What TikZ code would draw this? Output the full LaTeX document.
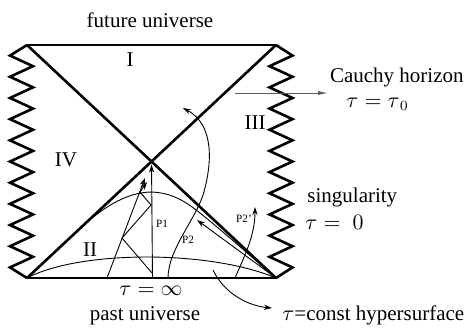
\documentclass[tikz,border=0pt]{standalone}
\usepackage{fontspec}
\setmainfont{Liberation Serif}
\usetikzlibrary{arrows.meta,calc,positioning}
\tikzset{
    wall/.style={line width=1.3pt,draw=black,line join=miter},
    thinline/.style={line width=0.45pt,draw=black},
    ray/.style={thinline,-{Stealth[length=4pt,width=2.6pt]}},
    pathlabel/.style={font=\fontsize{5.6}{6}\selectfont},
    every node/.style={font=\fontsize{10.5}{12}\selectfont,inner sep=0pt}
}

\begin{document}
\begin{tikzpicture}[x=0.5pt,y=-0.5pt]
  \useasboundingbox (0,0) rectangle (465,329);
  \coordinate (TL) at (27,45);
  \coordinate (TR) at (276,45);
  \coordinate (BL) at (27,278);
  \coordinate (BR) at (276,278);
  \coordinate (O) at (intersection of TL--BR and TR--BL);

  % boundary of the diagram
  \draw[wall] (TL)--(TR);
  \draw[wall] (BL)--(BR);
  \draw[wall] (TL)--(BR);
  \draw[wall] (TR)--(BL);

  % singularities
  \draw[wall] (TL) \foreach \i in {1,...,21}{
    -- ({21.5+11.5*cos(180*\i)},{45+\i*233/22})} -- (BL);
  \draw[wall] (TR) \foreach \i in {1,...,21}{
    -- ({281-11.5*cos(180*\i)},{45+\i*233/22})} -- (BR);

  % tau = const hypersurfaces
  \coordinate (U0) at ($(BL)!0.213!(TR)$);
  \draw[thinline] (U0) .. controls (100,210) and (125,192) .. (152,192)
    .. controls (172,193) and (185,201) .. (200,213)
    .. controls (225,233) and (255,260) .. (BR);
  \draw[thinline] (BL) .. controls (80,250) and (210,250) .. (BR);

  % world lines
  \coordinate (P1a) at ($(BL)!0.504!(BR)$);
  \draw[ray,shorten >=1.5pt] (P1a) -- (O);
  \coordinate (S0) at (107,278);
  \coordinate (S1) at (145,178);
  \draw[ray] (S0) -- (S1);
  \coordinate (R0) at (152,273);
  \coordinate (R1) at (122,238);
  \coordinate (R2) at (151,205);
  \coordinate (R3) at (140,192);
  \coordinate (R4) at (147,182);
  \draw[ray] (R0) -- (R1) -- (R2) -- (R3) -- (R4);

  \coordinate (Q0) at (168,278);
  \coordinate (Q1) at (203,195);
  \coordinate (Q2) at (183,108);
  \draw[ray] (Q0) .. controls (168,250) and (195,220) .. (Q1)
    .. controls (212,165) and (215,125) .. (Q2);

  \coordinate (A0) at (272,275);
  \coordinate (A1) at (197,220);
  \draw[ray] (A0) -- (A1);

  \coordinate (W0) at (235,278);
  \coordinate (W1) at (255,207);
  \draw[ray] (W0) .. controls (245,255) and (255,235) .. (W1);

  % labels
  \node (future) at (150,20) {future universe};
  \node (past) at (145,316) {past universe};
  \node (rI) at (130,60) {I};
  \node (rII) at (90,250) {II};
  \node (rIII) at (255,123) {III};
  \node (rIV) at (66,160) {IV};
  \node (tinf) at (151,291) {$\tau = \infty$};
  \node[pathlabel] (p1) at (162,224) {P1};
  \node[pathlabel] (p2) at (188,240) {P2};
  \node[pathlabel] (p2b) at (244,219) {P2'};

  \node[anchor=east] (cauchy) at (464,77) {Cauchy horizon};
  \node[anchor=west] (tzero) at (346,104) {$\tau = \tau_{\,0}$};
  \coordinate (C0) at (235,93);
  \coordinate (C1) at (328,93);
  \draw[thinline,draw=black!65,-{Latex[length=5pt,width=2pt]}] (C0) -- (C1);

  \node[anchor=west] (sing) at (307,197) {singularity};
  \node[anchor=west] (tau0) at (305,222) {$\tau = \;0$};

  \node[anchor=west] (hyper) at (282,315) {$\tau$=const hypersurface};
  \coordinate (H0) at (213,270);
  \coordinate (H1) at (272,308);
  \draw[ray] (H0) .. controls (225,295) and (250,306) .. (H1);
\end{tikzpicture}
\end{document}
